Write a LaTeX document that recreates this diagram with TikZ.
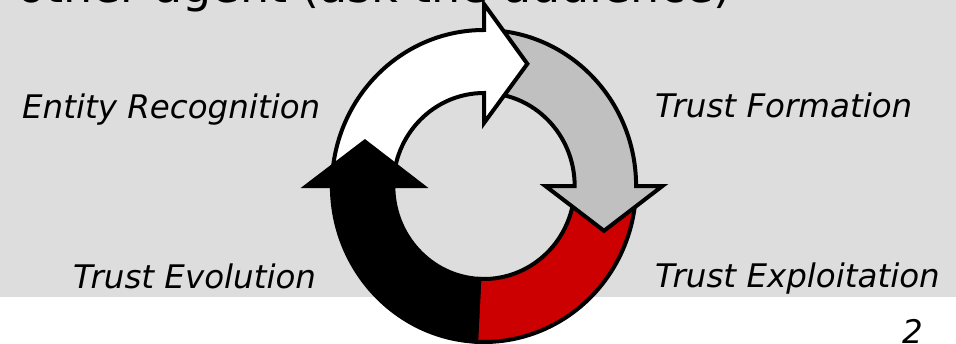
\documentclass[tikz,border=0pt]{standalone}
\usepackage{fontspec}
\setmainfont{DejaVu Sans}
\definecolor{bggray}{HTML}{DDDDDD}
\definecolor{seggray}{HTML}{C0C0C0}
\definecolor{segred}{HTML}{CC0000}
\begin{document}
\begin{tikzpicture}[x=1pt,y=-1pt,
  seg/.style={draw=black, line width=4pt, line join=miter},
  lbl/.style={inner sep=0pt, anchor=base west, font=\fontsize{32.5}{38}\selectfont\itshape}]
\useasboundingbox (0,0) rectangle (956,343);
\clip (0,0) rectangle (956,343);
\fill[white] (0,0) rectangle (956,343);
\fill[bggray] (0,0) rectangle (956,297);
\node[anchor=base west, inner sep=0pt, font=\fontsize{46}{55}\selectfont] (title) at (17,2) {other agent (ask the audience)};
\begin{scope}[shift={(484,186)}, yscale=-1, xscale=0.975]
  % red segment (bottom right)
  \path[seg, fill=segred] (0:156) arc[start angle=0, end angle=-93, radius=156]
     -- (-93:93) arc[start angle=-93, end angle=0, radius=93] -- cycle;
  % gray segment (top right)
  \path[seg, fill=seggray] (90:156) arc[start angle=90, end angle=0, radius=156]
     -- (0:183) -- (-20:131) -- (0:63) -- (0:93)
     arc[start angle=0, end angle=90, radius=93] -- cycle;
  % white segment (top left)
  \path[seg, fill=white] (180:156) arc[start angle=180, end angle=90, radius=156]
     -- (90:182) -- (70:130) -- (90:63) -- (90:93)
     arc[start angle=90, end angle=180, radius=93] -- cycle;
  % black segment (bottom left)
  \path[seg, fill=black] (267:156) arc[start angle=267, end angle=180, radius=156]
     -- (180:182) -- (160:130) -- (180:63) -- (180:93)
     arc[start angle=180, end angle=267, radius=93] -- cycle;
\end{scope}
\node[lbl] (er) at (22,118) {Entity Recognition};
\node[lbl] (tf) at (655,117) {Trust Formation};
\node[lbl] (tev) at (73,288) {Trust Evolution};
\node[lbl] (tex) at (655,287) {Trust Exploitation};
\node[lbl] (pg) at (902,343) {2};
\end{tikzpicture}
\end{document}
